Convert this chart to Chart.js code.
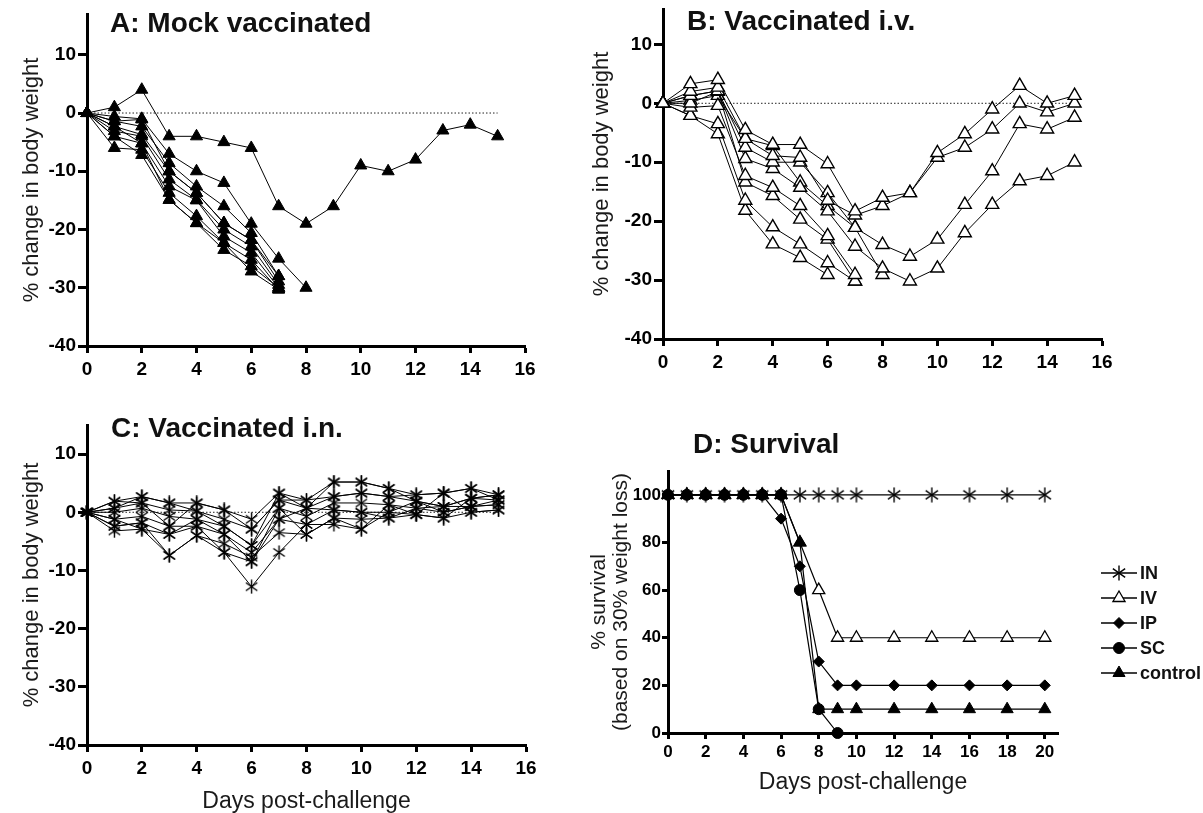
<!DOCTYPE html>
<html>
<head>
<meta charset="utf-8">
<script src="https://cdn.jsdelivr.net/npm/chart.js@4.4.1/dist/chart.umd.min.js"></script>
<style>
  html, body { margin: 0; padding: 0; background: #fff; }
  body { width: 1203px; height: 813px; position: relative; overflow: hidden; }
  canvas { position: absolute; }
</style>
</head>
<body>
<canvas id="chartA" width="545" height="400" style="left:0px;top:0px"></canvas>
<canvas id="chartB" width="546" height="395" style="left:576px;top:0px"></canvas>
<canvas id="chartC" width="546" height="413" style="left:0px;top:400px"></canvas>
<canvas id="chartD" width="625" height="393" style="left:578px;top:420px"></canvas>
<script>
// days post-challenge, one value per day per mouse (% change in body weight)
const days = [0, 1, 2, 3, 4, 5, 6, 7, 8, 9, 10, 11, 12, 13, 14, 15];
const zeroLineDays = [0, 15];
const dayTicks = [0, 2, 4, 6, 8, 10, 12, 14, 16];
const weightTicks = [-40, -30, -20, -10, 0, 10];

const mockMice = [
  [0, 1, 4, -4, -4, -5, -6, -16, -19, -16, -9, -10, -8, -3, -2, -4],
  [0, -0.6, -1, -7, -10, -12, -19, -25, -30],
  [0, -1.4, -2.3, -8.6, -12.6, -16, -20.6, -28],
  [0, -2.3, -3.7, -10, -13.7, -18.9, -21.8, -28.9],
  [0, -3.1, -4, -11.4, -14.9, -20, -22.9, -29.5],
  [0, -4, -5.2, -12.6, -15, -21.2, -24, -30],
  [0, -6, -6.3, -13.7, -17.7, -22.3, -25.2, -30.3],
  [0, -2.3, -5.2, -14.9, -18.9, -23.5, -26.3, -30],
  [0, -4, -7.2, -14.9, -18.9, -22.3, -27.2, -30.3],
  [0, -1.4, -1.1, -10, -13.7, -18.9, -21.8, -28]
];

const ivMice = [
  [0, 3.3, 4, -4.5, -7, -7, -10.3, -18.3, -16, -15.2, -8.4, -5.2, -1, 3, 0, 1.3],
  [0, 2, 2.7, -6, -8.9, -9.2, -16.5, -19, -17.4, -15.2, -9.2, -7.5, -4.4, 0, -1.5, 0],
  [0, 1.3, 2.1, -7.5, -10, -10, -15.2, -21.1, -24, -26, -23.1, -17.2, -11.5, -3.5, -4.4, -2.4],
  [0, 0, 2, -9.4, -11.1, -14.3, -18.3, -24.3, -28, -30.2, -28, -22, -17.2, -13.2, -12.3, -10],
  [0, -0.7, -0.4, -12.3, -14.3, -17.4, -22.5, -29.1],
  [0, -2.1, -3.5, -16.5, -21, -23.9, -27.1, -30.2],
  [0, -2.1, -5.2, -18.2, -23.9, -26.2, -29.1],
  [0, 1.3, 2.1, -13.4, -15.7, -19.7, -23.1, -30.2],
  [0, 0.5, 1.3, -6, -7.2, -13.4, -17.4, -21.1, -29.1]
];

const inMice = [
  [0, 1.9, 2.7, 1.6, 1.6, 0.4, -1.2, 3.3, 2.1, 5.2, 5.2, 4.1, 3, 3.3, 4.1, 3],
  [0, 0.7, 1.6, 0.4, 0.2, -1.2, -2.9, 2.1, 0.7, 2.7, 3.3, 2.7, 1.9, 1, 2.4, 2.1],
  [0, 0, 0.7, -0.7, -1.2, -2.4, -5.7, 0.7, -0.7, 1.6, 1.6, 1.3, 0.7, 0, 1, 1.3],
  [0, -1.2, -0.7, -2.4, -2.4, -3.8, -6.9, -1.2, -2.1, 0.4, 0, 0, -0.4, -1, 0, 0.4],
  [0, -2.4, -1.8, -7.4, -4, -5.4, -7.7, -3.5, -3.8, -1, -1.2, -1, 0.7, 1, 1, 1.3],
  [0, -3.2, -2.9, -3.8, -2.4, -6.9, -12.8, -6.9, -2.1, -2.1, -2.9, 0, 1.9, 0, 1, 2.1],
  [0, -1.2, -2.9, -7.4, -4, -6.9, -8.5, -1.2, 0.7, 0.4, 0, -1, -0.4, -1, 2.4, 3],
  [0, 1.9, 1.6, -2.4, 1.6, 0.4, -2.9, 2.1, 2.1, 2.7, 3.3, 2.7, 3, 3.3, 4.1, 2.1],
  [0, 0.7, 2.7, 1.6, 0.2, -2.4, -5.7, 3.3, 0.7, 5.2, 5.2, 4.1, 1.9, 1, 2.4, 3],
  [0, -2.4, -1.8, -3.8, -1.2, -3.8, -8.5, 0.7, -3.8, -1, -2.9, 1.3, -0.4, 3.3, 0, 0.4]
];

// survival (% , based on 30% weight loss)
const survDays = [0, 1, 2, 3, 4, 5, 6, 7, 8, 9, 10, 12, 14, 16, 18, 20];
const survIN = [100, 100, 100, 100, 100, 100, 100, 100, 100, 100, 100, 100, 100, 100, 100, 100];
const survIV = [100, 100, 100, 100, 100, 100, 100, 80, 60, 40, 40, 40, 40, 40, 40, 40];
const survIP = [100, 100, 100, 100, 100, 100, 90, 70, 30, 20, 20, 20, 20, 20, 20, 20];
const survSC = [100, 100, 100, 100, 100, 100, 100, 60, 10, 0];
const survControl = [100, 100, 100, 100, 100, 100, 100, 80, 10, 10, 10, 10, 10, 10, 10, 10];
const survDayTicks = [0, 2, 4, 6, 8, 10, 12, 14, 16, 18, 20];
const survTicks = [0, 20, 40, 60, 80, 100];

const FONT = '"Liberation Sans", Arial, Helvetica, sans-serif';
Chart.defaults.font.family = FONT;
Chart.defaults.color = '#000';

function asterisk(size, lw) {
  const c = document.createElement('canvas');
  c.width = size; c.height = size;
  const g = c.getContext('2d');
  g.strokeStyle = '#000';
  g.lineWidth = lw;
  const m = size / 2, r = size / 2 - 0.5;
  [90, 35, 145].forEach(a => {
    const t = a * Math.PI / 180;
    g.beginPath();
    g.moveTo(m - r * Math.cos(t), m - r * Math.sin(t));
    g.lineTo(m + r * Math.cos(t), m + r * Math.sin(t));
    g.stroke();
  });
  return c;
}
const starC = asterisk(15, 1.4);
const starD = asterisk(16, 1.4);

const panelTitle = {
  id: 'panelTitle',
  afterDraw(chart, args, o) {
    const ctx = chart.ctx;
    ctx.save();
    ctx.font = 'bold 28px ' + FONT;
    ctx.fillStyle = '#111';
    ctx.textAlign = 'left';
    ctx.textBaseline = 'alphabetic';
    ctx.fillText(o.text, o.x, o.y);
    ctx.restore();
  }
};

const lineLegend = {
  id: 'lineLegend',
  afterDraw(chart, args, o) {
    const ctx = chart.ctx;
    let row = 0;
    chart.data.datasets.forEach(ds => {
      if (!ds.label) return;
      const y = o.y + row * o.gap;
      row++;
      ctx.save();
      ctx.strokeStyle = '#000';
      ctx.lineWidth = 1.5;
      ctx.beginPath();
      ctx.moveTo(o.x, y);
      ctx.lineTo(o.x + o.len, y);
      ctx.stroke();
      ctx.fillStyle = ds.pointBackgroundColor;
      ctx.strokeStyle = ds.pointBorderColor;
      ctx.lineWidth = ds.pointBorderWidth;
      Chart.helpers.drawPoint(ctx, {
        pointStyle: ds.pointStyle, radius: ds.pointRadius,
        borderWidth: ds.pointBorderWidth, rotation: 0
      }, o.x + o.len / 2, y);
      ctx.fillStyle = '#111';
      ctx.font = 'bold 18px ' + FONT;
      ctx.textAlign = 'left';
      ctx.textBaseline = 'middle';
      ctx.fillText(ds.label, o.x + o.len + 3, y + 1);
      ctx.restore();
    });
  }
};

function axis(ticks, min, max, fit, tickLen, tickPad, tickSize, title) {
  return {
    type: 'linear', min: min, max: max,
    afterBuildTicks: s => { s.ticks = ticks.map(v => ({ value: v })); },
    afterFit: fit,
    grid: { drawOnChartArea: false, drawTicks: true, tickLength: tickLen, tickWidth: 3, tickColor: '#000' },
    border: { display: true, width: 3, color: '#000' },
    ticks: { padding: tickPad, color: '#000', autoSkip: false, maxRotation: 0, font: { size: tickSize, weight: 'bold' } },
    title: title
  };
}

function weightPanel(id, mice, mark, g) {
  const datasets = mice.map(vals => ({
    data: vals.map((v, i) => ({ x: days[i], y: v })),
    borderColor: '#000', borderWidth: 1,
    pointStyle: mark.style, pointRadius: mark.radius,
    pointBackgroundColor: mark.fill, pointBorderColor: '#000', pointBorderWidth: mark.bw,
    clip: false, order: 0
  }));
  datasets.push({
    data: zeroLineDays.map(d => ({ x: d, y: 0 })),
    borderColor: '#222', borderWidth: 1, borderDash: [1.5, 2],
    pointRadius: 0, clip: false, order: 10
  });
  const xTitle = g.xTitle
    ? { display: true, text: 'Days post-challenge', color: '#1a1a1a', font: { size: 23, lineHeight: 1 }, padding: { top: 0, bottom: 0 } }
    : { display: false };
  new Chart(document.getElementById(id), {
    type: 'line',
    data: { datasets: datasets },
    options: {
      responsive: false, animation: false, events: [],
      layout: { padding: { top: g.padTop, right: 20, left: 0, bottom: 0 } },
      plugins: { legend: { display: false }, tooltip: { enabled: false }, panelTitle: g.title },
      scales: {
        x: axis(dayTicks, 0, 16, s => { s.height = g.xH; s.paddingLeft = 0; s.paddingRight = 0; }, 7, 5, 19, xTitle),
        y: axis(weightTicks, -40, g.yMax, s => { s.width = 87; s.paddingTop = 0; s.paddingBottom = 0; }, 9, 2, 19,
          { display: true, text: '% change in body weight', color: '#1a1a1a', font: { size: 22 }, padding: { top: g.yTitlePad, bottom: 0 } })
      }
    },
    plugins: [panelTitle]
  });
}

weightPanel('chartA', mockMice, { style: 'triangle', radius: 7, fill: '#000', bw: 1 },
  { padTop: 14, xH: 54, yMax: 17, yTitlePad: 19, xTitle: false, title: { text: 'A: Mock vaccinated', x: 110, y: 32 } });
weightPanel('chartB', ivMice, { style: 'triangle', radius: 7.5, fill: '#fff', bw: 1.4 },
  { padTop: 9, xH: 56, yMax: 16, yTitlePad: 13, xTitle: false, title: { text: 'B: Vaccinated i.v.', x: 111, y: 30 } });
weightPanel('chartC', inMice, { style: starC, radius: 7, fill: '#000', bw: 1 },
  { padTop: 25, xH: 68, yMax: 15, yTitlePad: 19, xTitle: true, title: { text: 'C: Vaccinated i.n.', x: 111, y: 37 } });

function survSeries(vals) { return vals.map((v, i) => ({ x: survDays[i], y: v })); }
function survSet(label, vals, style, radius, fill, bw, order) {
  return {
    label: label, data: survSeries(vals),
    borderColor: '#000', borderWidth: 1.2,
    pointStyle: style, pointRadius: radius,
    pointBackgroundColor: fill, pointBorderColor: '#000', pointBorderWidth: bw,
    clip: false, order: order
  };
}

new Chart(document.getElementById('chartD'), {
  type: 'line',
  data: {
    datasets: [
      survSet('IN', survIN, starD, 7, '#000', 1, 5),
      survSet('IV', survIV, 'triangle', 7, '#fff', 1.3, 4),
      survSet('IP', survIP, 'rectRot', 5.5, '#000', 1, 3),
      survSet('SC', survSC, 'circle', 5.5, '#000', 1, 2),
      survSet('control', survControl, 'triangle', 7, '#000', 1, 1)
    ]
  },
  options: {
    responsive: false, animation: false, events: [],
    layout: { padding: { top: 51, right: 145, left: 0, bottom: 0 } },
    plugins: {
      legend: { display: false }, tooltip: { enabled: false },
      panelTitle: { text: 'D: Survival', x: 115, y: 33 },
      lineLegend: { x: 523, y: 153, gap: 25, len: 36 }
    },
    scales: {
      x: axis(survDayTicks, 0, 20.7, s => { s.height = 80; s.paddingLeft = 0; s.paddingRight = 0; }, 6, 3, 17,
        { display: true, text: 'Days post-challenge', color: '#1a1a1a', font: { size: 23, lineHeight: 1 }, padding: { top: 0, bottom: 19 } }),
      y: axis(survTicks, 0, 110, s => { s.width = 90; s.paddingTop = 0; s.paddingBottom = 0; }, 6, 1, 17,
        { display: true, text: ['% survival', '(based on 30% weight loss)'], color: '#1a1a1a', font: { size: 21, lineHeight: 1.05 }, padding: { top: 10, bottom: 0 } })
    }
  },
  plugins: [panelTitle, lineLegend]
});
</script>
</body>
</html>
